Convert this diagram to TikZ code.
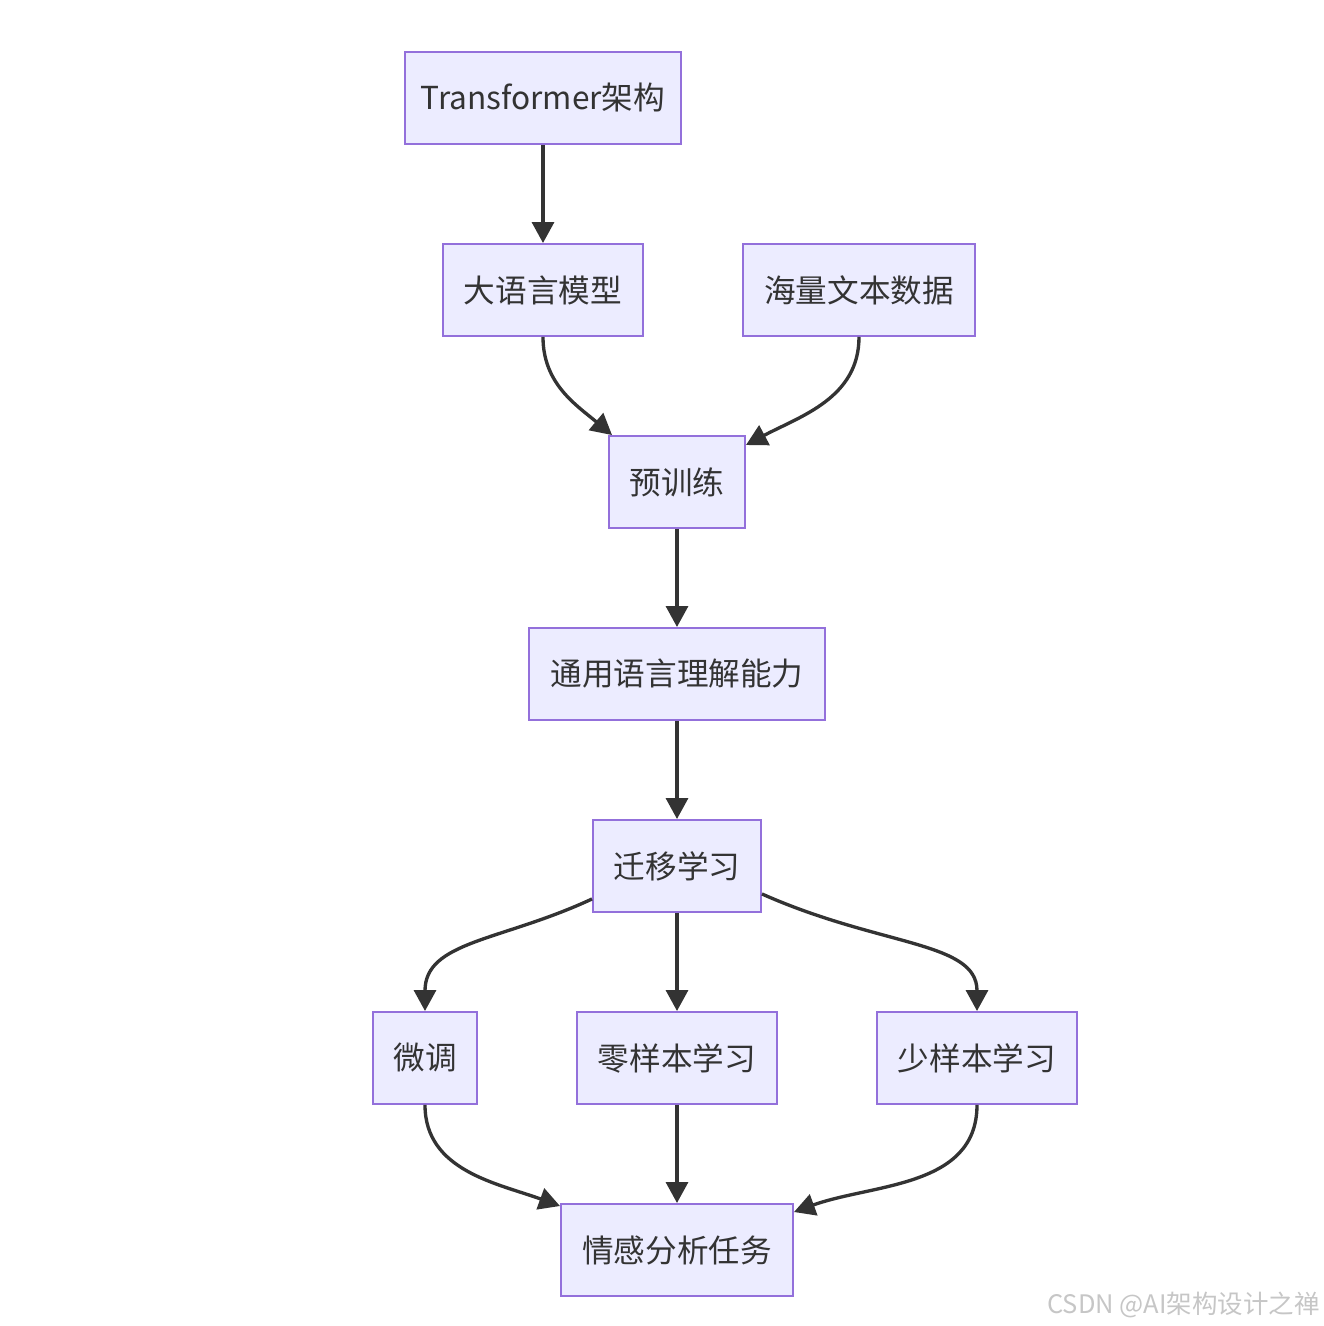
\documentclass[tikz,border=0pt]{standalone}
\usepackage{fontspec}
\setmainfont{Noto Sans CJK SC}
\usepackage{xcolor}
\usepackage{tikz}
\usetikzlibrary{
arrows.meta,
positioning
}
\definecolor{mmfill}{HTML}{ECECFF}
\definecolor{mmline}{HTML}{9370DB}
\definecolor{mmtext}{HTML}{333333}
\definecolor{mmarrow}{HTML}{333333}

\begin{document}
\begin{tikzpicture}[
  >={Triangle[width=0.44cm, length=0.42cm]},
  every node/.style={font=\fontsize{18}{22}\selectfont, text=mmtext},
  box/.style={draw=mmline, fill=mmfill, line width=1.1pt,
              minimum height=1.84cm, inner sep=0pt, align=center},
  arrow/.style={->, line width=1.9pt, draw=mmarrow}
]
\useasboundingbox (0,0) rectangle (26.48,26.52);

%% Top: architecture, model and data
\node[box, minimum width=5.52cm] (transformer) at (10.86, 24.56)
  {Transformer架构};
\node[box, minimum width=4.00cm] (llm) at (10.86, 20.72)
  {大语言模型};
\node[box, minimum width=4.64cm] (data) at (17.18, 20.72)
  {海量文本数据};

%% Pretraining chain
\node[box, minimum width=2.72cm] (pretrain) at (13.54, 16.88)
  {预训练};
\node[box, minimum width=5.92cm] (general) at (13.54, 13.04)
  {通用语言理解能力};
\node[box, minimum width=3.36cm] (transfer) at (13.54, 9.20)
  {迁移学习};

%% Three ways of transfer
\node[box, minimum width=2.08cm] (finetune) at (8.50, 5.36)
  {微调};
\node[box, minimum width=4.00cm] (zeroshot) at (13.54, 5.36)
  {零样本学习};
\node[box, minimum width=4.00cm] (fewshot) at (19.54, 5.36)
  {少样本学习};

%% Target task
\node[box, minimum width=4.64cm] (sentiment) at (13.54, 1.52)
  {情感分析任务};

\draw[arrow] (transformer.south) -- (llm.north);
\draw[arrow]
  (llm.south) to[out=-90,in=140] ([xshift=0.08cm]pretrain.north west);
\draw[arrow]
  (data.south) to[out=-90,in=28] ([yshift=-0.2cm]pretrain.north east);
\draw[arrow] (pretrain.south) -- (general.north);
\draw[arrow] (general.south) -- (transfer.north);

\draw[arrow]
  ([yshift=0.28cm]transfer.south west)
  .. controls +(205:2.0) and +(0,1.4) .. (finetune.north);
\draw[arrow] (transfer.south) -- (zeroshot.north);
\draw[arrow]
  ([yshift=0.38cm]transfer.south east)
  .. controls +(-24:2.6) and +(0,1.4) .. (fewshot.north);

\draw[arrow]
  (finetune.south) to[out=-90,in=160] ([yshift=-0.06cm]sentiment.north west);
\draw[arrow] (zeroshot.south) -- (sentiment.north);
\draw[arrow]
  (fewshot.south) to[out=-90,in=20] ([yshift=-0.18cm]sentiment.north east);

%% Watermark
\node[font=\fontsize{14.5}{16}\selectfont, text=gray!45, anchor=east,
      inner sep=0pt] (mark) at (26.40, 0.42)
  {CSDN @AI架构设计之禅};

\end{tikzpicture}
\end{document}
